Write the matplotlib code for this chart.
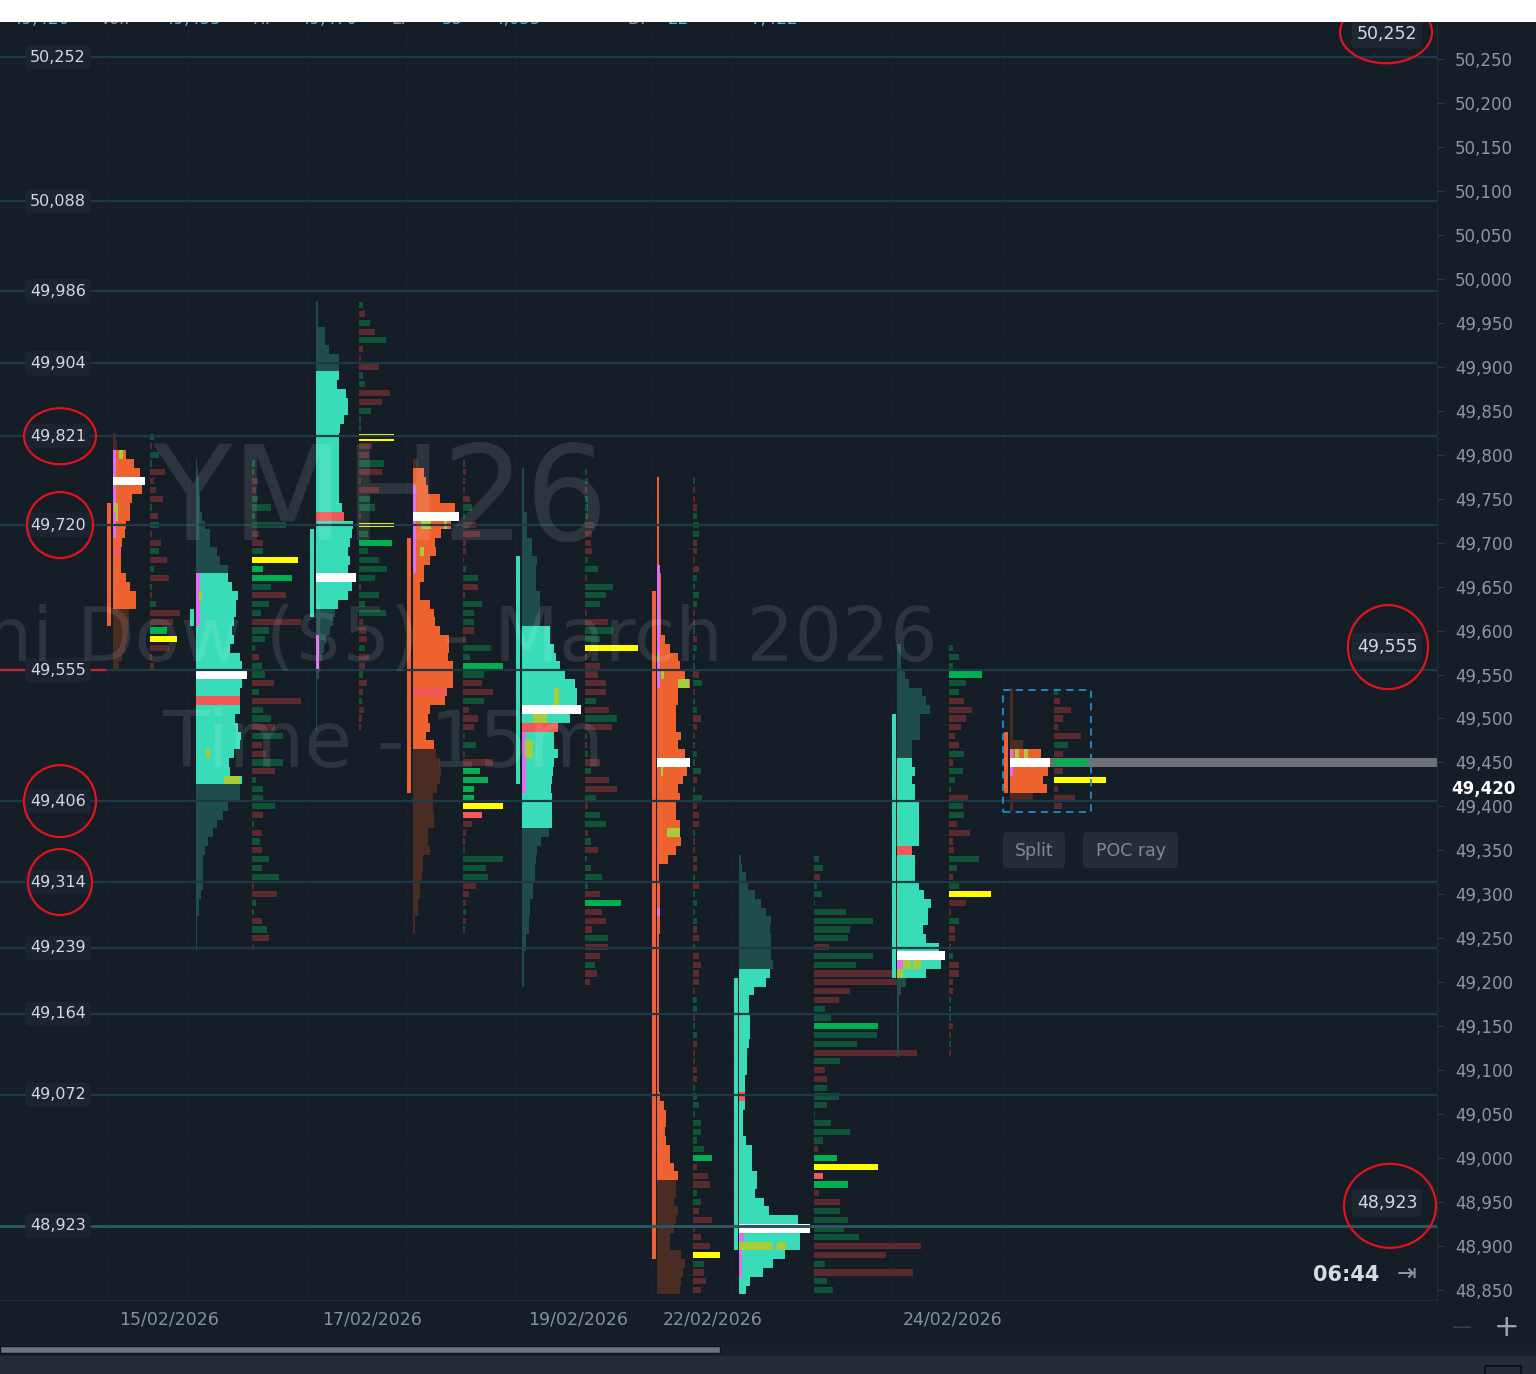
import numpy as np
from matplotlib import pyplot as plt
from matplotlib.patches import Rectangle, Ellipse, FancyBboxPatch

# ============================================================
# YM H26 (Mini Dow) 15m session volume profiles with
# marked levels, recreated from a platform screenshot.
# ============================================================

plt.rcParams['font.family'] = ['DejaVu Sans']

# ---- levels, axis, labels ----------------------------------
level_prices = [50252, 50088, 49986, 49904, 49821, 49720, 49555,
                49406, 49314, 49239, 49164, 49072, 48923]
circled_left = [49821, 49720, 49406, 49314]
alert_prices = [50252, 49555, 48923]
axis_ticks = list(range(48850, 50251, 50))
date_labels = ['15/02/2026', '17/02/2026', '19/02/2026', '22/02/2026', '24/02/2026']
last_price = 49420
poc_ray_price = 49450
box_prices = (49532, 49394)
timer_text = '06:44'
watermark = ['YMH26', 'Mini Dow ($5) - March 2026', 'Time - 15m']
header_texts = ['49,420', 'Vol:', '49,455', 'H:', '49,470', 'L:', '35', '4,055', 'D:', '22', '7,422']

# ---- sessions -----------------------------------------------
# rows are 10 pts, listed from the top price down
# marks: top, body high, body low, POC, red row, range high, range low
# delta codes: g buy, r sell, G strong buy, Y max, R strong sell,
#              y thin yellow, D double thin yellow
s1_marks = [49820, 49800, 49630, 49770, 49690, 49740, 49610]
s1_profile = [3, 4, 13, 21, 27, 32, 29, 19, 17, 17, 13, 12, 9, 8, 8, 8, 13, 17, 23, 23,
              16, 16, 15, 14, 12, 9, 6]
s1_delta = [4, 2, 9, 2, 15, 4, 6, 13, 2, 8, 9, 2, 11, 9, 17, 4, 19, 2, 2, 6, 30, 23, 17, 27, 19, 2, 4]
s1_codes = 'grggrrrrgrgrrgrgrgrgrrGYrrr'
s1_pink = [(49800, 49710, 3)]
s1_lime = [(49800, 6, 4), (49740, 1, 4), (49730, 3, 2)]

s2_marks = [49790, 49660, 49430, 49550, 49520, 49620, 49610]
s2_profile = [1, 2, 3, 3, 4, 4, 6, 9, 14, 14, 21, 24, 32,
              32, 36, 42, 40, 40, 38, 36, 38, 34, 44, 46, 51, 46, 44, 44, 44, 39, 42, 45, 44, 38, 33, 34, 46,
              44, 44, 32, 27, 21, 17, 12, 9, 7, 7, 7, 7, 5, 3, 3, 1, 1, 1, 1]
s2_delta = [3, 2, 6, 4, 6, 19, 3, 34, 7, 11, 11, 46, 11, 40, 19, 34, 17, 9, 49, 17,
            13, 3, 7, 10, 13, 22, 7, 49, 11, 19, 23, 31, 10, 14, 31, 23, 4, 11, 11, 23,
            11, 2, 10, 8, 10, 17, 10, 27, 2, 25, 4, 2, 10, 15, 17, 2]
s2_codes = 'ggrrggggrrgYGGgrggrgggrggrgrggrgrrgrggggrgrgrgggrrggrgrr'
s2_pink = [(49660, 49610, 4)]
s2_lime = [(49640, 3, 3), (49460, 10, 4), (49430, 28, 16)]

s3_marks = [49970, 49890, 49630, 49660, 49730, 49710, 49620]
s3_profile = [2, 2, 2, 9, 9, 13, 23, 23,
              23, 21, 30, 32, 32, 28, 24, 23, 23, 23, 23, 23, 23, 23, 23, 26, 28, 37, 36, 34, 32, 34,
              32, 40, 36, 32, 22,
              19, 17, 14, 10, 8, 6, 3, 3, 1, 1, 1, 1, 1, 1]
s3_delta = [4, 6, 11, 16, 27, 4, 2, 20, 4, 6, 31, 23, 12, 2, 2, 35, 13, 10, 25, 23,
            2, 20, 11, 16, 2, 35, 9, 33, 9, 20, 28, 16, 2, 20, 6, 27, 4, 7, 8, 6,
            10, 6, 4, 8, 4, 3, 5, 3, 2]
s3_codes = 'grgrgrrrggrrgggDrrgrrrggrygGggggrgggrrrgrrgrrgrrr'
s3_pink = [(49590, 49560, 3)]
s3_lime = []

s4_marks = [49790, 49780, 49470, 49730, 49530, 49700, 49420]
s4_profile = [5, 11, 13, 15, 27, 42, 46, 38, 28, 22, 23, 17, 11, 11, 7, 7, 17, 21, 22, 27,
              36, 36, 35, 40, 40, 40, 34, 32, 17, 15, 17, 13, 21,
              23, 27, 28, 27, 24, 20, 20, 21, 21, 15, 15, 17, 10, 10, 9, 7, 7, 5, 5, 2, 2]
s4_delta = [2, 3, 2, 2, 7, 9, 2, 13, 17, 3, 3, 1, 3, 15, 15, 2, 19, 11, 11, 11,
            2, 28, 7, 40, 21, 19, 30, 21, 6, 15, 11, 2, 13, 2, 30, 17, 25, 11, 11, 40,
            19, 9, 3, 2, 2, 40, 23, 25, 13, 6, 3, 3, 3, 2]
s4_codes = 'grrrrggrrrrrggrrgggrrggGgrrgrrrggrrGGGGYRrrrggggrrrgrg'
s4_pink = [(49760, 49670, 3)]
s4_lime = [(49720, 8, 10), (49720, 31, 3), (49690, 7, 4)]

s5_marks = [49780, 49600, 49380, 49510, 49490, 49680, 49430]
s5_profile = [2, 2, 2, 2, 2, 5, 5, 5, 10, 10, 15, 14, 14, 14, 18, 18, 18, 18,
              28, 28, 32, 34, 38, 43, 53, 55, 55, 59, 48, 36, 32, 32, 36, 32, 31, 30, 29, 30, 30, 30, 30,
              27, 19, 15, 14, 13, 13, 11, 11, 8, 8, 7, 7, 4, 4, 2, 2, 2, 2]
s5_delta = [2, 3, 2, 3, 3, 3, 9, 7, 6, 7, 3, 13, 2, 28, 21, 15, 2, 23, 28, 15,
            53, 2, 15, 13, 21, 21, 11, 24, 32, 27, 2, 2, 3, 15, 6, 24, 32, 11, 3, 15,
            21, 3, 6, 13, 2, 6, 17, 3, 15, 36, 17, 21, 7, 23, 23, 15, 10, 12, 5]
s5_codes = 'ggrgggrrrrggrgggrrggYrrrrrgrgrgrgrgrrgrggrgrggggrGrrrgrrgrr'
s5_pink = [(49480, 49420, 4)]
s5_lime = [(49530, 32, 5), (49520, 32, 5), (49500, 11, 14), (49470, 3, 8), (49460, 3, 8)]

s6_marks = [49770, 49770, 48980, 49450, None, 49640, 48890]
s6_profile = [2, 2, 2, 2, 2, 2, 2, 2, 2, 2, 3, 4, 4, 4, 4, 4, 4, 4,
              8, 13, 21, 23, 28, 33, 21, 21, 19, 19, 19, 24, 21, 28, 33, 30, 26, 21, 23, 19,
              19, 23, 23, 24, 19, 11, 2, 2, 3, 3, 3, 3, 3, 3,
              2, 2, 2, 2, 2, 2, 2, 2, 2, 2, 2, 2, 2, 2, 2, 2, 2, 2,
              3, 7, 9, 9, 8, 9, 13, 13, 17, 21,
              19, 19, 17, 21, 19, 17, 13, 13, 24, 28, 26, 24, 23]
s6_delta = [2, 2, 2, 4, 4, 6, 6, 4, 4, 2, 6, 4, 2, 6, 4, 2, 2, 2, 4, 4,
            2, 2, 6, 9, 2, 2, 4, 8, 4, 2, 2, 4, 2, 8, 4, 2, 9, 4, 6, 6,
            2, 2, 2, 4, 4, 2, 6, 2, 4, 2, 4, 4, 6, 2, 6, 8, 6, 6, 2, 4,
            4, 2, 2, 4, 4, 2, 2, 4, 4, 2, 4, 6, 2, 8, 8, 4, 11, 19, 4, 15,
            17, 4, 8, 6, 19, 2, 8, 17, 27, 11, 11, 13, 8]
s6_codes = ('grrrgggrrrrggggrrgrgggrgrggrrrrgggrggrrrgrrrrgrggg'
            'grrgrrrrrggrggrrrrrggggggggGrrrggrrrrrYgrrr')
s6_pink = [(49670, 49540, 3), (49280, 49280, 3)]
s6_lime = [(49570, 0, 2), (49540, 21, 11), (49550, 4, 3), (49370, 10, 13), (49440, 4, 2)]

s7_marks = [49340, 49210, 48850, 48920, 49070, 49200, 48900]
s7_profile = [2, 3, 7, 9, 16, 22, 27, 32, 31, 32, 32, 32, 34,
              31, 27, 15, 10, 10, 11, 11, 11, 10, 8, 8, 8, 6, 6, 6, 6, 4, 4, 4, 7, 13, 13, 13, 18,
              18, 16, 25, 30, 59, 71, 61, 61, 46, 34, 24, 11, 7]
s7_delta = [5, 9, 6, 3, 8, 1, 32, 59, 36, 34, 15, 59, 42, 83, 84, 36, 25, 11, 17, 64,
            63, 43, 103, 26, 11, 13, 13, 25, 13, 1, 17, 36, 9, 4, 23, 64, 9, 34, 5, 26,
            26, 34, 30, 45, 107, 72, 11, 99, 13, 19]
s7_codes = 'ggrgggggggrggrrrrggGggrgrrgggggggrGYRGrrggggrrgrgg'
s7_pink = [(48910, 48910, 5), (48890, 48870, 3)]
s7_lime = [(48900, 0, 34), (48900, 38, 9)]

s8_marks = [49580, 49450, 49210, 49230, 49350, 49500, 49210]
s8_profile = [4, 4, 4, 8, 12, 25, 29, 33, 23, 23, 23, 15, 15,
              15, 18, 15, 18, 18, 22, 22, 22, 22, 22, 15, 18, 18, 18, 22, 27, 34, 31, 31, 26, 29,
              42, 48, 44, 29,
              9, 4, 2, 2, 2, 2, 2, 2, 2]
s8_delta = [4, 10, 4, 33, 17, 10, 15, 23, 17, 12, 6, 10, 15, 4, 14, 6, 2, 19, 14, 15,
            8, 21, 4, 5, 30, 8, 4, 10, 42, 17, 2, 10, 6, 6, 2, 4, 10, 10, 4, 4,
            2, 2, 2, 4, 2, 2, 2]
s8_codes = 'gggGggrrrrrrgrgggrggrrrrggrgYrrgrrrgrrrrgggrrgr'
s8_pink = [(49220, 49220, 6)]
s8_lime = [(49220, 6, 8), (49220, 16, 8), (49210, 0, 6)]

s9_marks = [49530, 49460, 49420, 49450, None, 49480, 49420]
s9_profile = [3, 3, 3, 3, 3, 3, 13, 31, 40, 38, 33, 37, 23, 3]
s9_delta = [4, 6, 17, 9, 4, 27, 14, 9, 33, 9, 52, 4, 21, 8]
s9_codes = 'grrrrrgrGrYrrr'
s9_pink = [(49460, 49440, 3)]
s9_lime = [(49460, 5, 4), (49460, 14, 4)]

# ---- layout (pixels of the 1536 x 1374 canvas) ---------------
W, H = 1536, 1374
PLOT_R, PLOT_T, PLOT_B = 1437, 22, 1300
PX_PER_PT = 0.8793
session_x = [(107, 113, 150), (190, 196, 252), (310, 316, 359), (407, 413, 463),
             (516, 522, 585), (652, 657, 693), (734, 739, 814), (892, 897, 949),
             (1004, 1010, 1054)]
session_bull = [False, True, True, False, True, False, True, True, False]
separator_x = [107, 189, 309, 407, 516, 651, 733, 891, 1004]
date_x = [169, 372, 578, 713, 953]
header_x = [11, 100, 163, 252, 299, 391, 442, 493, 627, 668, 751]

BG = '#151d27'
ORANGE, BROWN = '#ee6230', '#4a2c23'
TEAL, TEAL_DARK = '#38dcb9', '#1f4d49'
SALMON, PINK, LIME = '#f25858', '#de70f0', '#a6cb3b'
DELTA_COLORS = {'g': '#0f5439', 'r': '#5a2a2f', 'G': '#00b050', 'Y': '#ffff00',
                'R': '#f25a5a', 'y': '#ffff00', 'D': '#ffff00'}
LEVEL_LINE = '#1c3945'
RED_MARK = '#e0141c'


def price_at(y):
    """pixel row -> price"""
    return 50250 - (y - 59) / PX_PER_PT


def row_of(p):
    """price -> pixel row (for the overlay)"""
    return 59 + (50250 - p) * PX_PER_PT


def draw_session(ax, xs, bull, marks, profile, delta, codes, pink, lime):
    """Draws one session: range line, profile rows, colour marks and delta column."""
    x_line, x_prof, x_delta = xs
    top, body_hi, body_lo, poc, red, rng_hi, rng_lo = marks
    main, tail = (TEAL, TEAL_DARK) if bull else (ORANGE, BROWN)

    prices = top - 10 * np.arange(len(profile))
    colors = []
    for p in prices:
        if red is not None and p == red:
            colors.append(SALMON)
        elif body_lo <= p <= body_hi:
            colors.append(main)
        else:
            colors.append(tail)
    ax.barh(prices, profile, height=10, left=x_prof, color=colors, linewidth=0, zorder=3)

    ax.add_patch(Rectangle((x_line, rng_lo - 5), 3.5, rng_hi - rng_lo + 10,
                           facecolor=main, linewidth=0, zorder=3))

    for hi, lo, w in pink:
        ax.add_patch(Rectangle((x_prof, lo - 5), w, hi - lo + 10, facecolor=PINK, linewidth=0, zorder=4))
    for p, off, w in lime:
        ax.add_patch(Rectangle((x_prof + off, p - 5), w, 10, facecolor=LIME, linewidth=0, zorder=4))

    # POC row on top
    poc_w = profile[list(prices).index(poc)]
    ax.barh(poc, poc_w, height=10, left=x_prof, color='white', linewidth=0, zorder=5)

    dprices = top - 10 * np.arange(len(delta))
    for p, w, c in zip(dprices, delta, codes):
        if c == 'D':
            for dy in (-2.8, 2.8):
                ax.barh(p + dy, w, height=2.2, left=x_delta, color=DELTA_COLORS[c], linewidth=0, zorder=3)
        elif c == 'y':
            ax.barh(p, w, height=4, left=x_delta, color=DELTA_COLORS[c], linewidth=0, zorder=3)
        else:
            ax.barh(p, w, height=7, left=x_delta, color=DELTA_COLORS[c], linewidth=0, zorder=3)


fig = plt.figure(figsize=(W / 100, H / 100), dpi=100)
fig.patch.set_facecolor(BG)

ax = fig.add_axes([0, (H - PLOT_B) / H, PLOT_R / W, (PLOT_B - PLOT_T) / H])
ax.set_facecolor(BG)
ax.set_xlim(0, PLOT_R)
ax.set_ylim(price_at(PLOT_B), price_at(PLOT_T))
for side in ['top', 'left']:
    ax.spines[side].set_visible(False)
for side in ['bottom', 'right']:
    ax.spines[side].set_color('#222c37')
ax.set_xticks([])
ax.yaxis.tick_right()
ax.set_yticks(axis_ticks)
ax.set_yticklabels([f'{t:,}' for t in axis_ticks])
ax.tick_params(axis='y', colors='#2e3944', labelcolor='#8c97a3', labelsize=12, length=5, pad=8)

# session separators
for x in separator_x:
    ax.axvline(x, color='#19232d', lw=1.2, ls=(0, (12, 4)), zorder=1)

sessions = [
    (s1_marks, s1_profile, s1_delta, s1_codes, s1_pink, s1_lime),
    (s2_marks, s2_profile, s2_delta, s2_codes, s2_pink, s2_lime),
    (s3_marks, s3_profile, s3_delta, s3_codes, s3_pink, s3_lime),
    (s4_marks, s4_profile, s4_delta, s4_codes, s4_pink, s4_lime),
    (s5_marks, s5_profile, s5_delta, s5_codes, s5_pink, s5_lime),
    (s6_marks, s6_profile, s6_delta, s6_codes, s6_pink, s6_lime),
    (s7_marks, s7_profile, s7_delta, s7_codes, s7_pink, s7_lime),
    (s8_marks, s8_profile, s8_delta, s8_codes, s8_pink, s8_lime),
    (s9_marks, s9_profile, s9_delta, s9_codes, s9_pink, s9_lime),
]

# POC ray of the live session (behind its delta column)
s9_right = session_x[8][1] + max(s9_profile)
ax.barh(poc_ray_price, PLOT_R - s9_right, height=10, left=s9_right, color='#6e7175', linewidth=0, zorder=2)

for xs, bull, sess in zip(session_x, session_bull, sessions):
    draw_session(ax, xs, bull, *sess)

# marked levels
for p in level_prices:
    if p == 48923:
        ax.axhline(p, color='#2a5561', lw=2.2, zorder=6)
    else:
        ax.axhline(p, color=LEVEL_LINE, lw=1.6, zorder=6)
    ax.text(58, p, f'{p:,}', ha='center', va='center', fontsize=11.5, color='#d3d9df', zorder=8,
            bbox=dict(boxstyle='round,pad=0.3,rounding_size=0.3', fc='#1b2430', ec='none'))
ax.plot([0, 105], [49555, 49555], color='#c8262c', lw=1.6, zorder=7)

# live session selection box
bx = session_x[8][0] - 1
ax.add_patch(Rectangle((bx, box_prices[1]), 88, box_prices[0] - box_prices[1], fill=False,
                       ec='#1f8dcc', lw=1.3, ls=(0, (4, 3)), zorder=9))

# ---- overlay in canvas pixels ---------------------------------
ui = fig.add_axes([0, 0, 1, 1], facecolor='none')
ui.set_xlim(0, W)
ui.set_ylim(H, 0)
ui.axis('off')

# watermark
wm_style = dict(color='white', alpha=0.1, ha='center', va='center', zorder=20)
ui.text(380, 503, watermark[0], fontsize=94, **wm_style)
ui.text(418, 640, watermark[1], fontsize=54, **wm_style)
ui.text(383, 745, watermark[2], fontsize=56, **wm_style)

# header (cut off by the white strip)
for x, t in zip(header_x, header_texts):
    col = '#8a949e' if t.endswith(':') else '#52b0e8'
    ui.text(x, 24.5, t, fontsize=12, color=col, va='baseline', zorder=1)
ui.add_patch(Rectangle((0, 0), W, PLOT_T, facecolor='white', linewidth=0, zorder=30))

# alert labels on the right
for p in alert_prices:
    ui.text(1387, row_of(p) - 23, f'{p:,}', ha='center', va='center', fontsize=12.5, color='#d3d9df',
            zorder=8, bbox=dict(boxstyle='round,pad=0.3,rounding_size=0.3', fc='#1d2631', ec='none'))

# red hand-drawn circles
circles = [(1386, row_of(50252) - 25, 92, 62), (1388, row_of(49555) - 23, 80, 84),
           (1390, row_of(48923) - 20, 92, 84)]
circles += [(60, row_of(p), w, h) for p, w, h in zip(circled_left, [72, 66, 72, 64], [56, 66, 72, 66])]
for cx, cy, w, h in circles:
    ui.add_patch(Ellipse((cx, cy), w, h, fill=False, ec=RED_MARK, lw=1.6, zorder=25))

# last price on the axis
ui.text(1483, row_of(last_price), f'{last_price:,}', ha='center', va='center', fontsize=12,
        fontweight='bold', color='white', zorder=10,
        bbox=dict(boxstyle='square,pad=0.15', fc=BG, ec='none'))

# buttons
for x0, w, label in [(1003, 62, 'Split'), (1083, 95, 'POC ray')]:
    ui.add_patch(FancyBboxPatch((x0, 832), w, 36, boxstyle='round,pad=0,rounding_size=4',
                                fc='#242d38', ec='none', zorder=10))
    ui.text(x0 + w / 2, 851, label, ha='center', va='center', fontsize=12.5, color='#7f8b97', zorder=11)

# timer
ui.text(1346, 1275, timer_text, ha='center', va='center', fontsize=15, fontweight='bold', color='#d5dbe1')
ui.text(1406, 1274, '⇥', ha='center', va='center', fontsize=17, color='#8e99a5')

# dates
for x, d in zip(date_x, date_labels):
    ui.text(x, 1320, d, ha='center', va='center', fontsize=12.5, color='#8391a0')

# zoom controls, scroll bar, bottom strip
ui.text(1462, 1327, '—', ha='center', va='center', fontsize=14, color='#39424c')
ui.text(1507, 1327, '+', ha='center', va='center', fontsize=22, color='#9aa4ae')
ui.add_patch(Rectangle((0, 1343), W, 13, facecolor='#1a2029', linewidth=0, zorder=2))
ui.add_patch(Rectangle((0, 1346), 720, 7, facecolor='#6c757f', edgecolor='#0f1318', lw=1, zorder=3))
ui.add_patch(Rectangle((0, 1356), W, 18, facecolor='#262c35', linewidth=0, zorder=2))
ui.add_patch(Rectangle((1485, 1366), 36, 10, facecolor='none', edgecolor='#0c0f13', lw=1.2, zorder=3))

fig.savefig('out.png', dpi=100, facecolor=fig.get_facecolor())
